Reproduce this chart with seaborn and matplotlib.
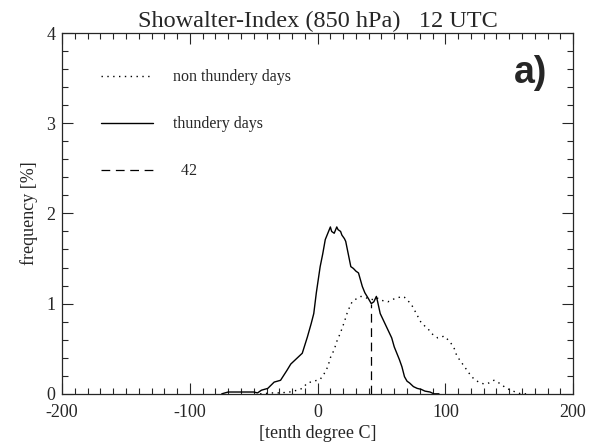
import numpy as np
import pandas as pd
import matplotlib
matplotlib.use("Agg")
import matplotlib.pyplot as plt
from matplotlib.ticker import MultipleLocator
import seaborn as sns

# Showalter-Index (850 hPa), 12 UTC  -- frequency distributions in [%]
thund_x = [-75, -70, -60, -50, -47, -44, -39, -34, -29, -24, -21, -18, -15, -12, -8, -5,
           -3, -1, 2, 4, 6, 8, 10, 11, 13, 15, 16, 18, 19, 21, 22, 24, 26, 28, 30, 32,
           35, 37, 40, 42, 44, 46, 47, 49, 52, 55, 58, 60, 62, 64, 66, 68, 70, 72,
           75, 78, 81, 84, 88, 91, 95]
thund_y = [0.0, 0.02, 0.02, 0.02, 0.01, 0.04, 0.06, 0.13, 0.15, 0.26, 0.33, 0.37, 0.41, 0.45, 0.63, 0.78,
           0.89, 1.12, 1.41, 1.55, 1.71, 1.78, 1.85, 1.80, 1.78, 1.85, 1.82, 1.80, 1.76, 1.72, 1.69, 1.55, 1.41, 1.39, 1.36, 1.34,
           1.19, 1.12, 1.05, 1.00, 1.02, 1.08, 1.02, 0.89, 0.80, 0.71, 0.62, 0.52, 0.45, 0.38, 0.30, 0.19, 0.14, 0.12,
           0.08, 0.06, 0.05, 0.03, 0.02, 0.0, 0.0]

nonth_x = [-45, -35, -29, -22, -16, -12, -8, -3, 2, 5, 8, 10, 13, 15, 18, 21, 23, 25, 27, 30,
           34, 36, 39, 42, 44, 47, 49, 52, 55, 58, 61, 64, 66, 68, 70, 73, 75, 78, 81,
           84, 87, 90, 94, 97, 99, 102, 104, 107, 109, 112, 116, 119, 122, 126, 130, 134,
           138, 141, 143, 147, 151, 155, 159, 165]
nonth_y = [0.0, 0.01, 0.01, 0.02, 0.04, 0.06, 0.12, 0.14, 0.16, 0.22, 0.30, 0.40, 0.49, 0.58, 0.68, 0.80, 0.89, 0.96, 1.02, 1.05,
           1.08, 1.07, 1.06, 1.05, 1.04, 1.06, 1.04, 1.03, 1.02, 1.04, 1.06, 1.07, 1.08, 1.07, 1.04, 1.00, 0.95, 0.87, 0.79,
           0.75, 0.71, 0.66, 0.62, 0.63, 0.64, 0.60, 0.57, 0.50, 0.42, 0.36, 0.28, 0.22, 0.17, 0.13, 0.11, 0.12,
           0.15, 0.13, 0.11, 0.07, 0.04, 0.02, 0.0, 0.0]

threshold = 42          # dashed separation value
threshold_top = 1.0     # dashed line ends where the curves cross

df_th = pd.DataFrame({"x": thund_x, "y": thund_y})
df_nt = pd.DataFrame({"x": nonth_x, "y": nonth_y})

sns.set_style("ticks")
plt.rcParams['font.family'] = ['Liberation Serif', 'DejaVu Serif']
plt.rcParams['axes.unicode_minus'] = False

fig = plt.figure(figsize=(5.97, 4.46), dpi=100)
ax = fig.add_axes([0.104, 0.117, 0.856, 0.809])

sns.lineplot(data=df_nt, x="x", y="y", ax=ax, color="black", lw=1.0,
             label="non thundery days", estimator=None, sort=False)
ax.lines[-1].set_dashes((1, 3.2))
sns.lineplot(data=df_th, x="x", y="y", ax=ax, color="black", lw=1.0,
             label="thundery days", estimator=None, sort=False)
ax.plot([threshold, threshold], [0, threshold_top], color="black", lw=0.9,
        dashes=(7, 4.5), label="  42")

ax.set_xlim(-200, 200)
ax.set_ylim(0, 4)
ax.xaxis.set_major_locator(MultipleLocator(100))
ax.xaxis.set_minor_locator(MultipleLocator(10))
ax.yaxis.set_major_locator(MultipleLocator(1))
ax.yaxis.set_minor_locator(MultipleLocator(0.2))
ax.tick_params(which="both", direction="in", top=True, right=True, width=0.8, labelsize=13)
ax.tick_params(which="major", length=8, pad=5)
ax.tick_params(which="minor", length=4)
ax.tick_params(axis="x", which="major", pad=7)
for s in ax.spines.values():
    s.set_linewidth(0.9)

ax.set_title("Showalter-Index (850 hPa)   12 UTC", fontsize=17.5, pad=4)
ax.set_xlabel("[tenth degree C]", fontsize=13, labelpad=3)
ax.set_ylabel("frequency [%]", fontsize=13, labelpad=6)

fig.canvas.draw()
ax.get_yticklabels()[0].set_va("baseline")

ax.text(0.916, 0.889, "a)", transform=ax.transAxes, fontsize=27, fontweight="bold",
        family="Liberation Sans", ha="center", va="center")

ax.legend(loc="upper left", bbox_to_anchor=(0.06, 0.922), frameon=False, fontsize=11.5,
          handlelength=3.25, handletextpad=1.25, labelspacing=1.95, borderpad=0)

fig.savefig("out.png", dpi=100)
